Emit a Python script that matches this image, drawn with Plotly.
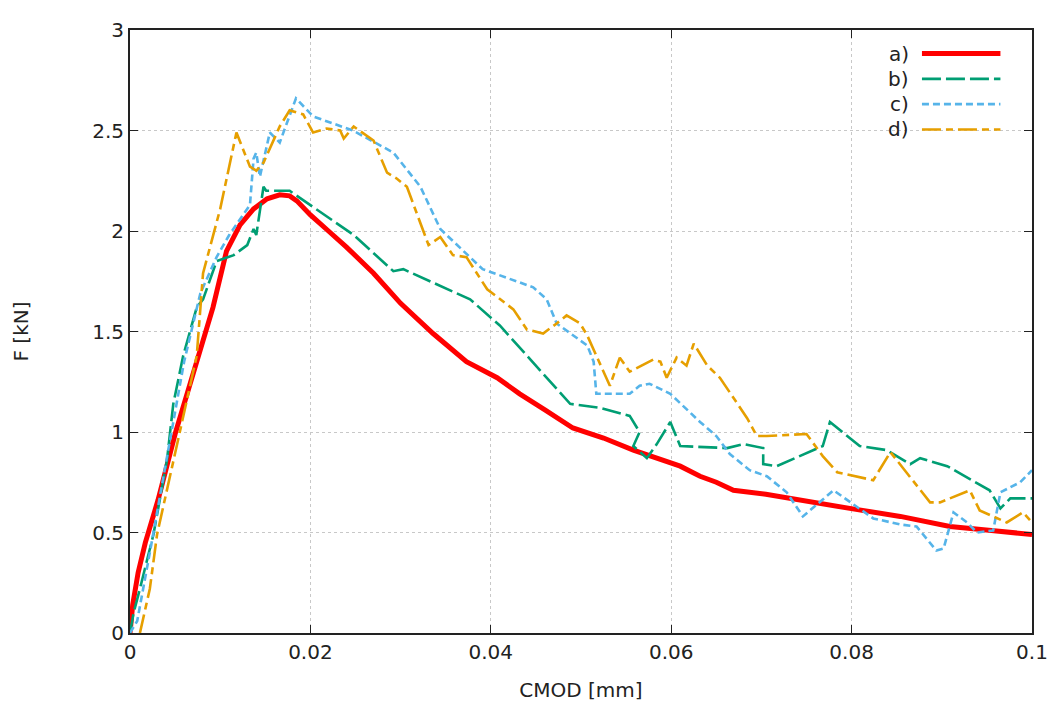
import plotly.graph_objects as go

# a) red solid
a_x = [0.0, 0.0003, 0.0009, 0.0017, 0.0031, 0.005, 0.0064, 0.0078, 0.0092, 0.0107, 0.0122, 0.0137, 0.0152, 0.0166, 0.0177,
       0.0185, 0.020, 0.022, 0.024, 0.027, 0.030, 0.0336, 0.0373, 0.0407, 0.0432, 0.046, 0.0491, 0.0525, 0.0558, 0.061,
       0.0632, 0.065, 0.0669, 0.0705, 0.0743, 0.0798, 0.0854, 0.0909, 0.0955, 0.1]
a_y = [0.0, 0.14, 0.30, 0.45, 0.66, 0.99, 1.2, 1.40, 1.62, 1.90, 2.03, 2.11, 2.16, 2.18, 2.175,
       2.15, 2.08, 2.00, 1.92, 1.79, 1.64, 1.49, 1.35, 1.27, 1.19, 1.11, 1.02, 0.97, 0.91, 0.83,
       0.78, 0.75, 0.71, 0.69, 0.66, 0.62, 0.58, 0.53, 0.51, 0.49]

# b) green dashed
b_x = [0.0, 0.0004, 0.0011, 0.0026, 0.0041, 0.0048, 0.0059, 0.0074, 0.0081, 0.0096, 0.0115, 0.013, 0.0137, 0.014, 0.0148,
       0.0151, 0.0177, 0.0196, 0.0248, 0.0292, 0.0303, 0.0377, 0.041, 0.0488, 0.0521, 0.0554, 0.0565, 0.0558, 0.0573,
       0.0584, 0.0599, 0.061, 0.0662, 0.068, 0.0702, 0.0702, 0.0717, 0.0768, 0.0776, 0.0809, 0.0839, 0.0865, 0.0876,
       0.0906, 0.0953, 0.0965, 0.0976, 0.1]
b_y = [0.0, 0.1, 0.22, 0.49, 0.86, 1.14, 1.38, 1.62, 1.66, 1.85, 1.88, 1.93, 2.01, 1.98, 2.22,
       2.20, 2.20, 2.14, 1.98, 1.80, 1.81, 1.66, 1.53, 1.14, 1.12, 1.08, 1.0, 0.93, 0.87,
       0.94, 1.05, 0.93, 0.92, 0.94, 0.92, 0.84, 0.83, 0.93, 1.05, 0.93, 0.91, 0.84, 0.87,
       0.83, 0.71, 0.62, 0.67, 0.67]

# c) blue dotted
c_x = [0.0, 0.0008, 0.0022, 0.0044, 0.006, 0.0078, 0.0096, 0.011, 0.0133, 0.0137, 0.014, 0.0144, 0.0155, 0.0166, 0.0177,
       0.0184, 0.0203, 0.0247, 0.0292, 0.0322, 0.0344, 0.0391, 0.0447, 0.0462, 0.0473, 0.0507, 0.0514, 0.0517, 0.0554,
       0.0565, 0.0576, 0.0599, 0.0632, 0.065, 0.0665, 0.0687, 0.0706, 0.0728, 0.0746, 0.0765, 0.078, 0.0824, 0.0854,
       0.0872, 0.0894, 0.0902, 0.0913, 0.0928, 0.0939, 0.0957, 0.0965, 0.0987, 0.1]
c_y = [0.0, 0.06, 0.40, 0.94, 1.35, 1.69, 1.87, 1.98, 2.13, 2.36, 2.39, 2.27, 2.49, 2.44, 2.57,
       2.66, 2.57, 2.50, 2.39, 2.22, 2.01, 1.81, 1.72, 1.66, 1.54, 1.43, 1.35, 1.19, 1.19,
       1.23, 1.24, 1.19, 1.05, 0.98, 0.89, 0.81, 0.78, 0.70, 0.58, 0.65, 0.71, 0.57, 0.54,
       0.53, 0.41, 0.42, 0.60, 0.55, 0.50, 0.51, 0.70, 0.75, 0.81]

# d) orange dash-dot
d_x = [0.0011, 0.0022, 0.003, 0.0052, 0.0074, 0.0081, 0.01, 0.0118, 0.0133, 0.014, 0.0148, 0.0166, 0.0177, 0.0192,
       0.0203, 0.0218, 0.0233, 0.0237, 0.0248, 0.027, 0.0285, 0.0296, 0.0307, 0.0331, 0.0344, 0.0358, 0.0373, 0.0396,
       0.0425, 0.044, 0.0458, 0.0473, 0.0484, 0.0499, 0.0507, 0.0532, 0.0543, 0.0554, 0.058, 0.0588, 0.0595, 0.0606,
       0.0617, 0.0625, 0.064, 0.0654, 0.0684, 0.0695, 0.0706, 0.075, 0.0768, 0.0784, 0.0817, 0.0824, 0.0843, 0.0861,
       0.0887, 0.0898, 0.0931, 0.0942, 0.0972, 0.099, 0.1]
d_y = [0.0, 0.22, 0.49, 0.94, 1.38, 1.79, 2.11, 2.49, 2.32, 2.30, 2.34, 2.52, 2.60, 2.58,
       2.49, 2.51, 2.50, 2.46, 2.52, 2.45, 2.29, 2.26, 2.22, 1.93, 1.97, 1.88, 1.87, 1.71,
       1.61, 1.51, 1.49, 1.54, 1.58, 1.54, 1.48, 1.23, 1.37, 1.30, 1.36, 1.35, 1.27, 1.37,
       1.33, 1.44, 1.33, 1.27, 1.07, 0.98, 0.98, 0.99, 0.88, 0.80, 0.77, 0.76, 0.90, 0.80,
       0.65, 0.65, 0.71, 0.61, 0.55, 0.60, 0.55]

labels = ["a)", "b)", "c)", "d)"]
colors = ["#ff0000", "#009e73", "#56b4e9", "#e69f00"]
widths = [5, 2.6, 2.6, 2.6]
dashes = ["solid", "19px,5px", "7px,4px", "19px,5px,7px,5px"]

series = [(a_x, a_y), (b_x, b_y), (c_x, c_y), (d_x, d_y)]

fig = go.Figure()
for (xs, ys), lab, col, w, d in zip(series, labels, colors, widths, dashes):
    fig.add_trace(go.Scatter(x=xs, y=ys, mode="lines", name=lab,
                             line=dict(color=col, width=w, dash=d), showlegend=False))

TXT = "#222"
FS = 20

# custom legend (gnuplot style: label then sample line)
leg_y = [0.961, 0.919, 0.877, 0.835]
for lab, col, w, d, yy in zip(labels, colors, widths, dashes, leg_y):
    fig.add_annotation(x=0.866, y=yy, xref="paper", yref="paper", text=lab, showarrow=False,
                       xanchor="right", yanchor="middle", font=dict(size=FS, color=TXT))
    fig.add_shape(type="line", xref="paper", yref="paper", x0=0.878, x1=0.965, y0=yy, y1=yy,
                  line=dict(color=col, width=w, dash=d))

axis_common = dict(showline=True, linecolor=TXT, linewidth=2, mirror="ticks", ticks="inside",
                   ticklen=8, tickcolor=TXT, showgrid=True, gridcolor="#c8c8c8", griddash="dot",
                   gridwidth=1, zeroline=False, tickfont=dict(size=FS, color=TXT))

fig.update_xaxes(range=[0, 0.1], tickvals=[0, 0.02, 0.04, 0.06, 0.08, 0.1],
                 ticktext=["0", "0.02", "0.04", "0.06", "0.08", "0.1"],
                 title=dict(text="CMOD [mm]", font=dict(size=FS, color=TXT), standoff=20),
                 **axis_common)
fig.update_yaxes(range=[0, 3], tickvals=[0, 0.5, 1, 1.5, 2, 2.5, 3],
                 ticktext=["0", "0.5", "1", "1.5", "2", "2.5", "3"],
                 title=dict(text="F [kN]", font=dict(size=FS, color=TXT), standoff=58),
                 **axis_common)

fig.update_layout(width=1059, height=715, margin=dict(l=122, r=35, t=10, b=90),
                  plot_bgcolor="white", paper_bgcolor="white",
                  font=dict(family="DejaVu Sans, sans-serif", size=FS, color=TXT))

fig.write_html("out.html")
